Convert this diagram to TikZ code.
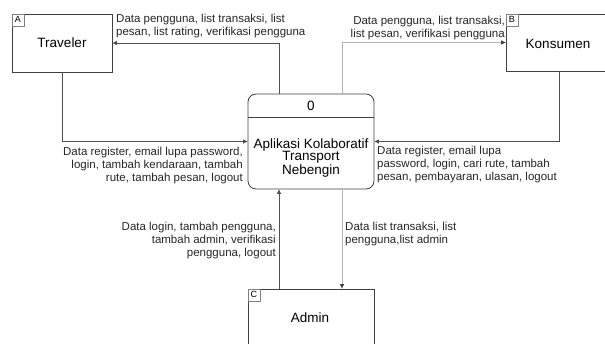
\documentclass[tikz,border=0pt]{standalone}
\usepackage{fontspec}
\setmainfont{Liberation Sans}
\usetikzlibrary{arrows.meta,calc}

\definecolor{linedark}{HTML}{505050}
\definecolor{linelight}{HTML}{B4B4B4}
\definecolor{boxline}{HTML}{404040}

\tikzset{
  entity/.style={draw=boxline, line width=0.8pt, fill=white, inner sep=0pt,
    font=\fontsize{13.5}{14}\selectfont},
  tag/.style={draw=gray, line width=0.6pt, minimum width=12pt, minimum height=12pt,
    inner sep=0pt, font=\fontsize{9}{10}\selectfont, anchor=north west},
  flowdark/.style={draw=linedark, line width=0.9pt,
    -{Triangle[length=4.5pt,width=4pt]}},
  flowlight/.style={draw=linelight, line width=0.9pt,
    -{Triangle[length=4.5pt,width=4pt,color=black!75]}},
  lbl/.style={inner sep=0pt, text=black!85, font=\fontsize{11.5}{13}\selectfont},
}

\begin{document}
\begin{tikzpicture}[x=1pt,y=-1pt]
\useasboundingbox (0,0) rectangle (605,344);
\clip (0,0) rectangle (605,344);

% external entities
\node[entity, minimum width=100pt, minimum height=58pt] (T) at (62,43) {Traveler};
\node[tag] (ta) at (T.north west) {A};

\node[entity, minimum width=106pt, minimum height=57pt] (K) at (559,42.5) {};
\node[font=\fontsize{13.5}{14}\selectfont, inner sep=0pt] (kt) at (558,44) {Konsumen};
\node[tag] (tb) at (K.north west) {B};

\node[entity, minimum width=126pt, minimum height=64pt] (A) at (311,321) {};
\node[font=\fontsize{13.5}{14}\selectfont, inner sep=0pt] (at) at (310,318) {Admin};
\node[tag] (tc) at (A.north west) {C};

% process
\node[draw=boxline, line width=0.8pt, rounded corners=8pt, fill=white,
      minimum width=126pt, minimum height=95pt, inner sep=0pt] (P) at (311,141.5) {};
\coordinate (dl) at ($(P.north west)+(0,23.5)$);
\coordinate (dr) at ($(P.north east)+(0,23.5)$);
\draw[draw=boxline, line width=0.7pt] (dl) -- (dr);
\node[font=\fontsize{13.5}{14}\selectfont, inner sep=0pt] (pn) at (311,105.5) {0};
\node[font=\fontsize{13.5}{12.5}\selectfont, align=center, inner sep=0pt] (pt) at (311,158)
  {Aplikasi Kolaboratif\\Transport\\Nebengin};

% data flows
\draw[flowdark] ([xshift=-32pt]P.north) |- (T.east);
\draw[flowlight] ([xshift=31pt]P.north) |- (K.west);
\draw[flowdark] (T.south) |- (P.west);
\draw[flowdark] (K.south) |- (P.east);
\draw[flowdark] ([xshift=-32pt]A.north) -- ([xshift=-32pt]P.south);
\draw[flowlight] ([xshift=31pt]P.south) -- ([xshift=31pt]A.north);

% flow labels
\node[lbl, align=left, anchor=north west] (l1) at (116,13.5)
  {Data pengguna, list transaksi, list\\pesan, list rating, verifikasi pengguna};
\node[lbl, align=right, anchor=north east] (l2) at (505,16)
  {Data pengguna, list transaksi,\\list pesan, verifikasi pengguna};
\node[lbl, align=right, anchor=north east] (l3) at (243,147)
  {Data register, email lupa password,\\login, tambah kendaraan, tambah\\rute, tambah pesan, logout};
\node[lbl, align=left, anchor=north west] (l4) at (377,146)
  {Data register, email lupa\\password, login, cari rute, tambah\\pesan, pembayaran, ulasan, logout};
\node[lbl, align=right, anchor=north east] (l5) at (276,222)
  {Data login, tambah pengguna,\\tambah admin, verifikasi\\pengguna, logout};
\node[lbl, align=left, anchor=north west] (l6) at (345,222)
  {Data list transaksi, list\\pengguna,list admin};
\end{tikzpicture}
\end{document}
